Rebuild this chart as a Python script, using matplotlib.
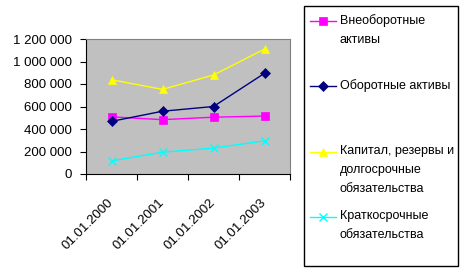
import matplotlib
matplotlib.use("Agg")
import matplotlib.pyplot as plt
from matplotlib.lines import Line2D
from matplotlib.patches import Rectangle
from matplotlib.ticker import FuncFormatter

plt.rcParams['font.family'] = ['Liberation Sans', 'DejaVu Sans']

dates = ["01.01.2000", "01.01.2001", "01.01.2002", "01.01.2003"]
vneoborot = [508000, 483000, 505000, 515000]
oborot = [468000, 558000, 600000, 895000]
kapital = [838000, 752000, 880000, 1110000]
kratko = [116000, 194000, 230000, 295000]

series = [
    ("Внеоборотные\nактивы", vneoborot, "#FF00FF", "s", 6),
    ("Оборотные активы", oborot, "#000080", "D", 5),
    ("Капитал, резервы и\nдолгосрочные\nобязательства", kapital, "#FFFF00", "^", 6),
    ("Краткосрочные\nобязательства", kratko, "#00FFFF", "x", 6),
]

fig = plt.figure(figsize=(4.69, 2.76), dpi=100)
ax = fig.add_axes([86 / 469, 1 - 174 / 276, (290 - 86) / 469, (174 - 39) / 276])
ax.set_facecolor("#C0C0C0")

xs = [i + 0.5 for i in range(len(dates))]
for name, vals, col, mk, ms in series:
    ax.plot(xs, vals, color=col, lw=1, marker=mk, markersize=ms,
            markeredgewidth=1 if mk == "x" else 0.5, markeredgecolor=col)

ax.set_xlim(0, len(dates))
ax.set_ylim(0, 1200000)
ax.set_yticks(range(0, 1200001, 200000))
ax.yaxis.set_major_formatter(FuncFormatter(lambda v, p: f"{int(v):,}".replace(",", " ")))
ax.tick_params(axis="y", direction="out", length=4, width=0.8, pad=6, labelsize=9.5)

ax.set_xticks(xs)
ax.set_xticklabels(dates)
ax.set_xticks(range(len(dates) + 1), minor=True)
ax.tick_params(axis="x", which="major", length=0, pad=19, labelsize=9.5)
ax.tick_params(axis="x", which="minor", direction="out", length=4, width=0.8)
for lab in ax.get_xticklabels():
    lab.set_rotation(45)
    lab.set_rotation_mode("anchor")
    lab.set_ha("right")
    lab.set_va("center")

for s in ["top", "right"]:
    ax.spines[s].set_color("#808080")
for s in ["left", "bottom"]:
    ax.spines[s].set_color("black")
    ax.spines[s].set_linewidth(0.8)

# legend box, drawn by hand to match the original layout
W, H = 469, 276
fig.patches.append(Rectangle((304 / W, 1 - 266 / H), (458 - 304) / W, (266 - 6) / H,
                             transform=fig.transFigure, fill=False, ec="black", lw=1))
rows = [21, 86, 152, 217]
for (name, vals, col, mk, ms), yy in zip(series, rows):
    fy = 1 - yy / H
    fig.lines.append(Line2D([310 / W, 336 / W], [fy, fy], transform=fig.transFigure,
                            color=col, lw=1))
    fig.lines.append(Line2D([323 / W], [fy], transform=fig.transFigure, color=col,
                            marker=mk, markersize=ms, markeredgecolor=col,
                            markeredgewidth=1 if mk == "x" else 0.5, lw=0))
    fig.text(340 / W, fy + 7 / H, name, ha="left", va="top", fontsize=9,
             linespacing=1.75)

fig.savefig("out.png", dpi=100)
